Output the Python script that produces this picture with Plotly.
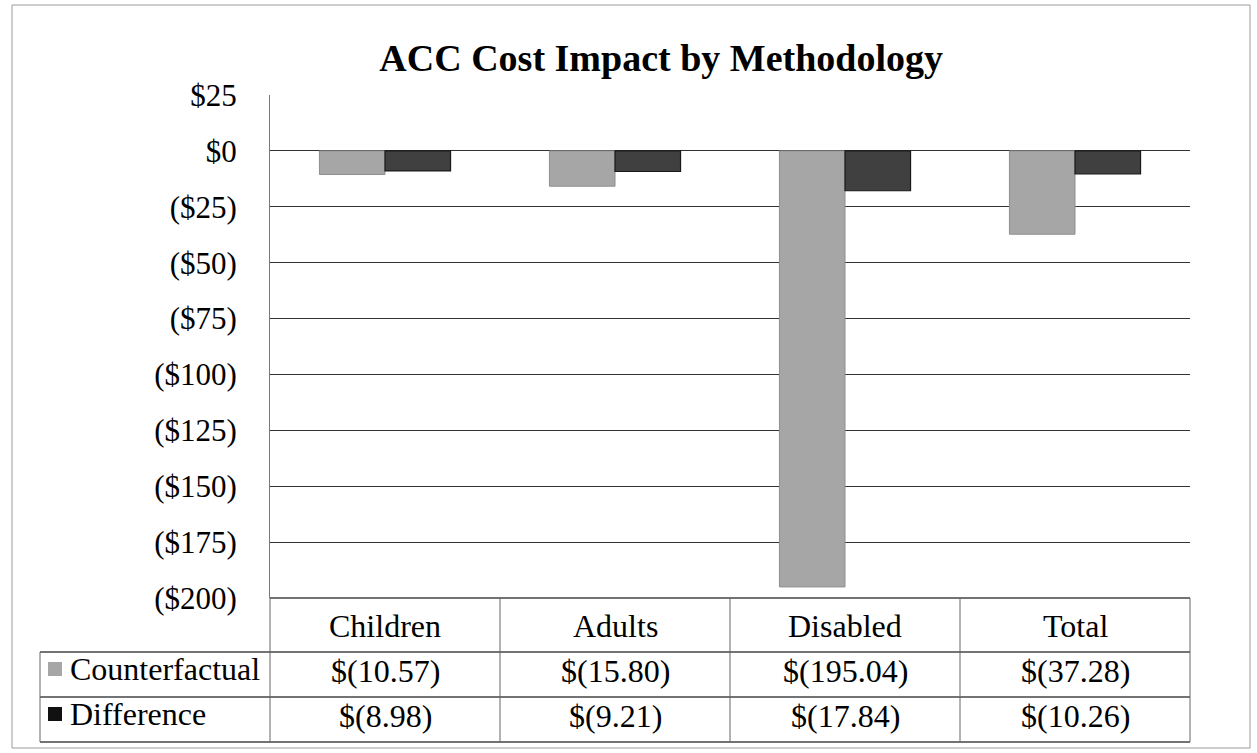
import plotly.graph_objects as go

# ---- data ----
categories = ["Children", "Adults", "Disabled", "Total"]
counterfactual = [-10.57, -15.80, -195.04, -37.28]
difference = [-8.98, -9.21, -17.84, -10.26]
series_names = ["Counterfactual", "Difference"]
y_tick_vals = [25, 0, -25, -50, -75, -100, -125, -150, -175, -200]
y_tick_labels = ["$25", "$0", "($25)", "($50)", "($75)", "($100)", "($125)",
                 "($150)", "($175)", "($200)"]
title_text = "ACC Cost Impact by Methodology"

# ---- layout constants (pixels) ----
W, H = 1257, 753
L, R, T, B = 270, 1190, 95, 598
pw, ph = R - L, B - T
FONT = "Liberation Serif, Times New Roman, serif"
c_cf = "#a6a6a6"
c_df = "#404040"


def px_x(px):
    return (px - L) / pw


def px_y(py):
    return (B - py) / ph


def fmt(v):
    return "$({:.2f})".format(abs(v)) if v < 0 else "${:.2f}".format(v)


fig = go.Figure()
fig.add_trace(go.Bar(x=categories, y=counterfactual, name=series_names[0],
                     marker=dict(color=c_cf, line=dict(color="#8f8f8f", width=1))))
fig.add_trace(go.Bar(x=categories, y=difference, name=series_names[1],
                     marker=dict(color=c_df, line=dict(color="#1a1a1a", width=1.2))))

n = len(categories)
shapes = []
# table horizontal lines
row_lines = [652, 697, 742]
shapes.append(dict(type="line", xref="paper", yref="paper", x0=0, x1=1,
                   y0=px_y(B), y1=px_y(B), line=dict(color="#444", width=1.3)))
for yy in row_lines:
    shapes.append(dict(type="line", xref="paper", yref="paper", x0=px_x(40), x1=1,
                       y0=px_y(yy), y1=px_y(yy), line=dict(color="#444", width=1.3)))
# vertical lines
for i in range(n + 1):
    shapes.append(dict(type="line", xref="paper", yref="paper", x0=i / n, x1=i / n,
                       y0=px_y(B), y1=px_y(742), line=dict(color="#666", width=1)))
shapes.append(dict(type="line", xref="paper", yref="paper", x0=px_x(40), x1=px_x(40),
                   y0=px_y(652), y1=px_y(742), line=dict(color="#666", width=1)))
# legend keys
key_rows = [(662, 676, c_cf), (707, 721, "#111")]
for y0, y1, col in key_rows:
    shapes.append(dict(type="rect", xref="paper", yref="paper", x0=px_x(48), x1=px_x(62),
                       y0=px_y(y1), y1=px_y(y0), fillcolor=col, line=dict(width=0)))
# outer chart border
shapes.append(dict(type="rect", xref="paper", yref="paper", x0=px_x(12), x1=px_x(1250),
                   y0=px_y(748), y1=px_y(5), line=dict(color="#9a9a9a", width=1)))

annotations = []
tfont = dict(family=FONT, size=32, color="#000")
for i, cat in enumerate(categories):
    xc = (i + 0.5) / n
    annotations.append(dict(text=cat, x=xc, y=px_y(626), xref="paper", yref="paper",
                            showarrow=False, font=tfont, xanchor="center", yanchor="middle"))
    annotations.append(dict(text=fmt(counterfactual[i]), x=xc, y=px_y(671), xref="paper",
                            yref="paper", showarrow=False, font=tfont,
                            xanchor="center", yanchor="middle"))
    annotations.append(dict(text=fmt(difference[i]), x=xc, y=px_y(716), xref="paper",
                            yref="paper", showarrow=False, font=tfont,
                            xanchor="center", yanchor="middle"))
for name, yy in zip(series_names, [669, 714]):
    annotations.append(dict(text=name, x=px_x(68), y=px_y(yy), xref="paper", yref="paper",
                            showarrow=False, font=tfont, xanchor="left", yanchor="middle"))

fig.update_layout(
    width=W, height=H,
    margin=dict(l=L, r=W - R, t=T, b=H - B, pad=0),
    paper_bgcolor="white", plot_bgcolor="white",
    barmode="group", bargap=0.43, bargroupgap=0,
    showlegend=False,
    title=dict(text="<b>" + title_text + "</b>", x=0.526, xanchor="center",
               y=1 - 58 / H, yanchor="middle",
               font=dict(family=FONT, size=38, color="#000")),
    xaxis=dict(range=[-0.5, n - 0.5], showticklabels=False, showgrid=False,
               zeroline=False, showline=False, ticks=""),
    yaxis=dict(range=[-200, 25], tickvals=y_tick_vals, ticktext=y_tick_labels,
               showgrid=True, gridcolor="#333", gridwidth=1.3,
               zeroline=False, showline=True, linecolor="#777", linewidth=1,
               ticks="", ticklabelstandoff=26,
               tickfont=dict(family=FONT, size=31, color="#000")),
    shapes=shapes, annotations=annotations,
)

fig.write_html("out.html")
